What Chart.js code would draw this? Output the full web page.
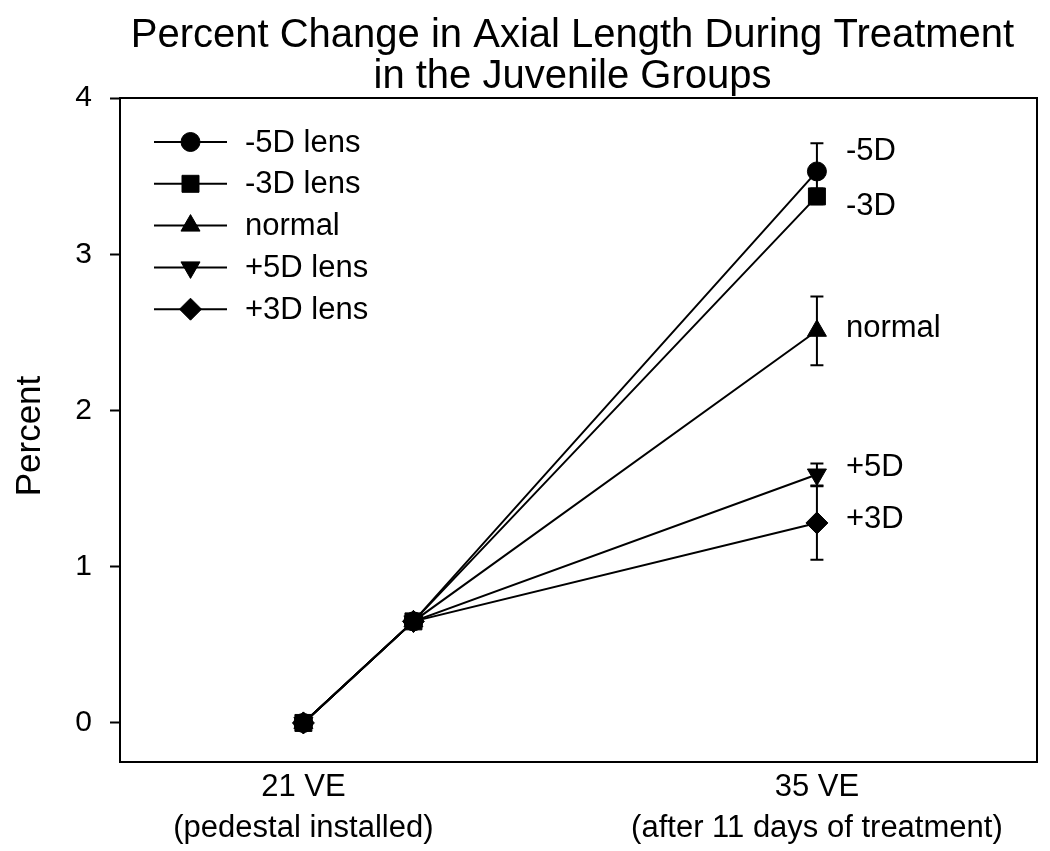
<!DOCTYPE html>
<html>
<head>
<meta charset="utf-8">
<title>Percent Change in Axial Length</title>
<script src="https://cdn.jsdelivr.net/npm/chart.js@4.4.1/dist/chart.umd.min.js"></script>
<style>
  html, body { margin: 0; padding: 0; background: #fff; }
  #wrap { width: 1050px; height: 851px; position: relative; }
</style>
</head>
<body>
<div id="wrap"><canvas id="chart"></canvas></div>
<script>
// data
const xValues = [21, 24, 35];
const seriesNames = ['-5D lens', '-3D lens', 'normal', '+5D lens', '+3D lens'];
const endLabels = ['-5D', '-3D', 'normal', '+5D', '+3D'];
const minus5Values = [0, 0.65, 3.53];
const minus3Values = [0, 0.65, 3.37];
const normalValues = [0, 0.65, 2.51];
const plus5Values = [0, 0.65, 1.59];
const plus3Values = [0, 0.65, 1.28];
const minus5Err = [0, 0, 0.18];
const minus3Err = [0, 0, 0.05];
const normalErr = [0, 0, 0.22];
const plus5Err = [0, 0, 0.07];
const plus3Err = [0, 0, 0.235];
const xTickValues = [21, 35];
const xTickLabels = [['21 VE', '(pedestal installed)'], ['35 VE', '(after 11 days of treatment)']];
const yTickValues = [0, 1, 2, 3, 4];
const titleLines = ['Percent Change in Axial Length During Treatment', 'in the Juvenile Groups'];
const yTitle = 'Percent';

// styling
const FONT = '"Liberation Sans", Arial, sans-serif';
const pointStyles = ['circle', 'rect', 'triangle', 'triangle', 'rectRot'];
const pointRotations = [0, 0, 0, 180, 0];
const pointRadii = [9.5, 12, 11, 11, 11];
const endLabelDy = [-20, 10, -2, -7, -4];

const allValues = [minus5Values, minus3Values, normalValues, plus5Values, plus3Values];
const allErrors = [minus5Err, minus3Err, normalErr, plus5Err, plus3Err];

const datasets = seriesNames.map(function(name, i) {
  return {
    label: name,
    data: xValues.map(function(x, j) { return { x: x, y: allValues[i][j] }; }),
    errors: allErrors[i],
    borderColor: '#000',
    backgroundColor: '#000',
    borderWidth: 2,
    pointStyle: pointStyles[i],
    rotation: pointRotations[i],
    pointRadius: pointRadii[i],
    pointBorderWidth: 1,
    pointBackgroundColor: '#000',
    pointBorderColor: '#000',
    showLine: true,
    tension: 0
  };
});

function drawMarker(ctx, style, radius, rotation, x, y) {
  if (Chart.helpers && Chart.helpers.drawPoint) {
    Chart.helpers.drawPoint(ctx, { pointStyle: style, radius: radius, rotation: rotation, borderWidth: 1 }, x, y);
  } else {
    ctx.beginPath();
    ctx.arc(x, y, radius, 0, Math.PI * 2);
    ctx.fill();
  }
}

const errorBars = {
  id: 'errorBars',
  afterDatasetsDraw(chart) {
    const ctx = chart.ctx;
    const xs = chart.scales.x, ys = chart.scales.y;
    ctx.save();
    ctx.strokeStyle = '#000';
    ctx.lineWidth = 2;
    chart.data.datasets.forEach(function(ds) {
      ds.data.forEach(function(p, j) {
        const e = ds.errors[j];
        if (!e) return;
        const px = xs.getPixelForValue(p.x);
        const top = ys.getPixelForValue(p.y + e);
        const bot = ys.getPixelForValue(p.y - e);
        ctx.beginPath();
        ctx.moveTo(px, top); ctx.lineTo(px, bot);
        ctx.moveTo(px - 6.5, top); ctx.lineTo(px + 6.5, top);
        ctx.moveTo(px - 6.5, bot); ctx.lineTo(px + 6.5, bot);
        ctx.stroke();
      });
    });
    ctx.restore();
  }
};

const decorations = {
  id: 'decorations',
  afterDraw(chart) {
    const ctx = chart.ctx;
    const area = chart.chartArea;
    const xs = chart.scales.x, ys = chart.scales.y;
    ctx.save();

    // frame
    ctx.strokeStyle = '#000';
    ctx.lineWidth = 2;
    ctx.strokeRect(area.left, area.top, area.right - area.left, area.bottom - area.top);

    // title
    ctx.fillStyle = '#000';
    ctx.font = '40px ' + FONT;
    ctx.textAlign = 'center';
    ctx.textBaseline = 'alphabetic';
    const cx = (area.left + area.right) / 2 - 6;
    ctx.fillText(titleLines[0], cx, 47);
    ctx.fillText(titleLines[1], cx, 88);

    // y axis title
    ctx.save();
    ctx.translate(30, (area.top + area.bottom) / 2 + 6);
    ctx.rotate(-Math.PI / 2);
    ctx.font = '35px ' + FONT;
    ctx.textBaseline = 'middle';
    ctx.fillText(yTitle, 0, 0);
    ctx.restore();

    // legend
    ctx.font = '31px ' + FONT;
    ctx.textAlign = 'left';
    ctx.textBaseline = 'middle';
    chart.data.datasets.forEach(function(ds, i) {
      const y = area.top + 44 + i * 41.8;
      const x0 = area.left + 34;
      ctx.strokeStyle = '#000';
      ctx.lineWidth = 2;
      ctx.beginPath();
      ctx.moveTo(x0, y); ctx.lineTo(x0 + 73, y);
      ctx.stroke();
      ctx.fillStyle = '#000';
      ctx.lineWidth = 1;
      drawMarker(ctx, ds.pointStyle, ds.pointRadius, ds.rotation, x0 + 36.5, y);
      ctx.fillStyle = '#000';
      ctx.fillText(ds.label, x0 + 91, y + 1);
    });

    // labels at the end of each series
    chart.data.datasets.forEach(function(ds, i) {
      const last = ds.data[ds.data.length - 1];
      const px = xs.getPixelForValue(last.x) + 29;
      const py = ys.getPixelForValue(last.y) + endLabelDy[i];
      ctx.fillText(endLabels[i], px, py);
    });

    ctx.restore();
  }
};

new Chart(document.getElementById('chart'), {
  type: 'scatter',
  data: { datasets: datasets },
  plugins: [errorBars, decorations],
  options: {
    responsive: true,
    maintainAspectRatio: false,
    animation: false,
    layout: { padding: { top: 98, right: 8, left: 0, bottom: 0 } },
    plugins: { legend: { display: false }, tooltip: { enabled: false }, title: { display: false } },
    scales: {
      x: {
        type: 'linear',
        min: 16,
        max: 41,
        afterBuildTicks: function(scale) {
          scale.ticks = xTickValues.map(function(v) { return { value: v }; });
        },
        afterFit: function(scale) { scale.height = 89; },
        grid: { display: false, drawTicks: false },
        border: { display: true, color: '#000', width: 2 },
        ticks: {
          color: '#000',
          padding: 5,
          maxRotation: 0,
          autoSkip: false,
          font: { family: FONT, size: 31, lineHeight: 1.33 },
          callback: function(v) {
            const i = xTickValues.indexOf(v);
            return i >= 0 ? xTickLabels[i] : '';
          }
        }
      },
      y: {
        type: 'linear',
        min: -0.25,
        max: 4,
        afterBuildTicks: function(scale) {
          scale.ticks = yTickValues.map(function(v) { return { value: v }; });
        },
        afterFit: function(scale) { scale.width = 120; },
        grid: { drawOnChartArea: false, drawTicks: true, tickLength: 10, tickColor: '#000', tickWidth: 2 },
        border: { display: true, color: '#000', width: 2 },
        ticks: {
          color: '#000',
          padding: 18,
          font: { family: FONT, size: 30 },
          callback: function(v) { return String(v); }
        }
      }
    }
  }
});
</script>
</body>
</html>
